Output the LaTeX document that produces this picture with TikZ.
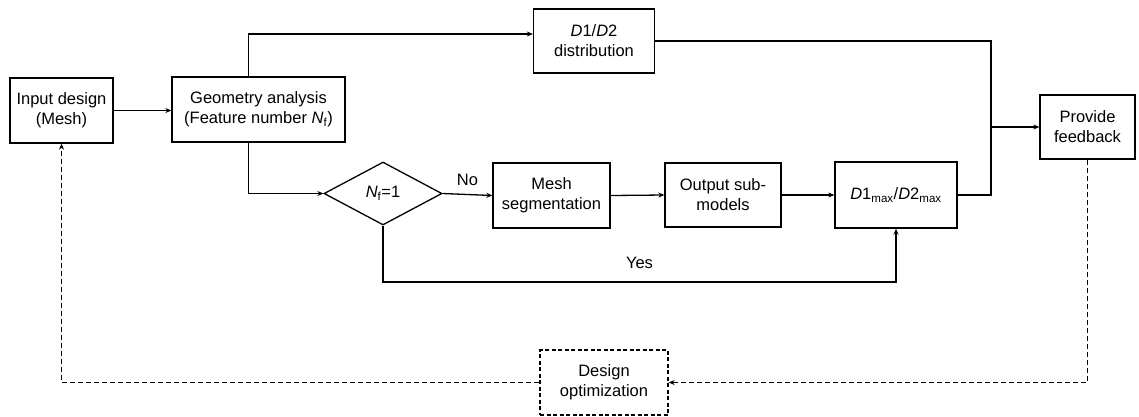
\documentclass[tikz,border=0pt]{standalone}
\usepackage{fontspec}
\setmainfont{Liberation Sans}
\usetikzlibrary{shapes.geometric,arrows.meta,calc}
\begin{document}
\begin{tikzpicture}[x=1pt,y=-1pt,
  font=\fontsize{16.5}{20}\selectfont,
  line width=1.3pt,
  box/.style={draw,rectangle,align=center,inner sep=0pt},
  dbox/.style={box,dash pattern=on 4pt off 2.5pt},
  dec/.style={draw,diamond,inner sep=0pt,minimum width=118pt,minimum height=63pt},
  arr/.style={-{Stealth[length=6pt,width=5pt]}},
  darr/.style={dash pattern=on 5pt off 3pt,-{Stealth[length=6pt,width=5pt]}}]
\useasboundingbox (0,0) rectangle (1139,416);
\node[box,minimum width=103pt,minimum height=65pt] (inp) at (61.5,110.5) {Input design\\(Mesh)};
\node[box,minimum width=173pt,minimum height=65pt] (geo) at (258.5,109.5) {Geometry analysis\\(Feature number \textit{N}\textsubscript{f})};
\node[box,minimum width=121pt,minimum height=64pt] (dist) at (594,41) {\textit{D}1/\textit{D}2\\distribution};
\node[dec] (dia) at (383,193.5) {\textit{N}\textsubscript{f}=1};
\node[box,minimum width=117pt,minimum height=65pt] (seg) at (551.5,195.5) {Mesh\\segmentation};
\node[box,minimum width=116pt,minimum height=64pt] (sub) at (723,195) {Output sub-\\models};
\node[box,minimum width=122pt,minimum height=66pt] (dmax) at (896,195) {\textit{D}1\textsubscript{max}/\textit{D}2\textsubscript{max}};
\node[box,minimum width=95pt,minimum height=64pt] (fb) at (1087.5,127) {Provide\\feedback};
\node[dbox,minimum width=128pt,minimum height=65pt] (opt) at (604,382.5) {Design\\optimization};
\coordinate (gtop) at ($(geo.north)+(-10,0)$);
\coordinate (gbot) at ($(geo.south)+(-10,0)$);
\coordinate (jb) at (991,195);
\coordinate (yb) at (0,282);
\draw[arr] (inp.east) -- (inp.east -| geo.west);
\draw[arr] (gtop) |- ($(dist.west)+(0,-7)$);
\draw[arr] (gbot) |- (dia.west);
\draw[arr] (dia.east) -- node[above=5pt]{No} (seg.west);
\draw[arr] (seg.east) -- (sub.west);
\draw[arr] (sub.east) -- (dmax.west);
\draw[arr] (dia.south) -- (dia.south |- yb) -- node[above=9pt]{Yes} (dmax.south |- yb) -- (dmax.south);
\draw (dist.east) -| (jb) -- (dmax.east);
\draw[arr] (jb |- fb.west) -- (fb.west);
\draw[darr] (fb.south) |- (opt.east);
\draw[darr] (opt.west) -| (inp.south);
\end{tikzpicture}
\end{document}
